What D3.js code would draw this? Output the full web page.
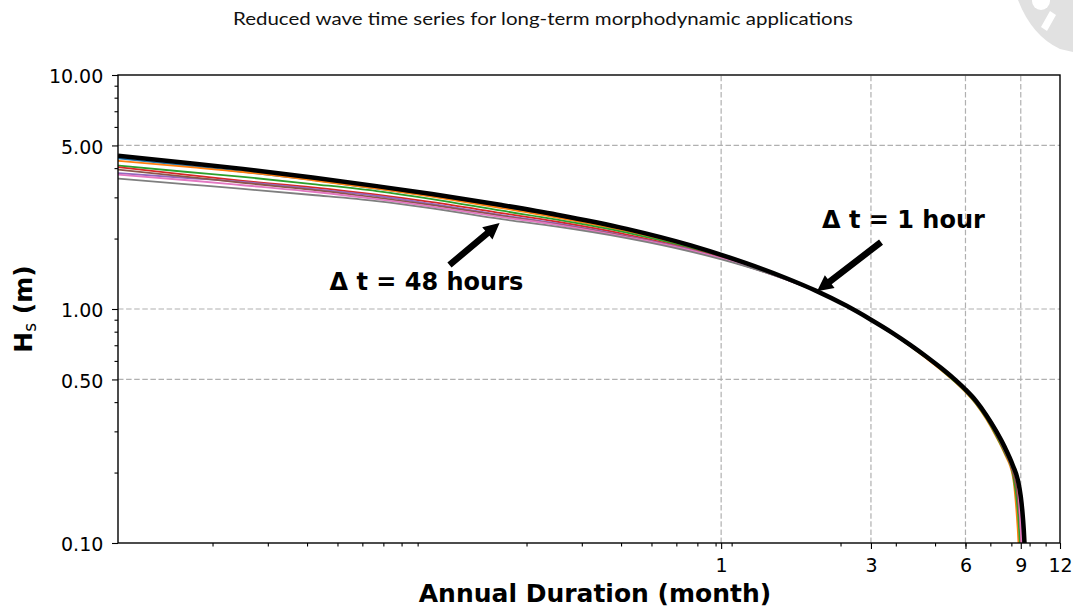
<!DOCTYPE html>
<html>
<head>
<meta charset="utf-8">
<script src="https://cdn.jsdelivr.net/npm/d3@7"></script>
<style>
  body { margin: 0; background: #fff; }
  svg { display: block; font-family: "DejaVu Sans", sans-serif; }
</style>
</head>
<body>
<div id="chart"></div>
<script>
// annual duration (months) at which each Hs value is read
const durations = [0.012, 0.02, 0.03, 0.05, 0.08, 0.12, 0.2, 0.3, 0.5, 0.8, 1.2, 1.6, 2.0, 2.5,
  3.0, 3.5, 4.0, 4.5, 5.0, 5.5, 6.0, 6.5, 7.0, 7.5, 8.0, 8.5, 8.8, 9.0, 9.1, 9.2, 9.3];

// Hs (m) per series, dt = 1 hour is the thick black line
const hs1h = [4.52, 4.21, 3.97, 3.65, 3.35, 3.10, 2.78, 2.53, 2.20, 1.87, 1.57, 1.36, 1.198, 1.034,
  0.900, 0.793, 0.703, 0.627, 0.562, 0.505, 0.453, 0.403, 0.351, 0.302, 0.257, 0.214, 0.187, 0.158, 0.138, 0.114, 0.087];
const hsBlue = [4.40, 4.10, 3.86, 3.56, 3.27, 3.04, 2.73, 2.49, 2.17, 1.85, 1.56, 1.357, 1.198, 1.034,
  0.900, 0.792, 0.702, 0.626, 0.560, 0.503, 0.451, 0.401, 0.349, 0.299, 0.253, 0.210, 0.179, 0.146, 0.121, 0.095, null];
const hsOrange = [4.30, 4.05, 3.85, 3.55, 3.27, 3.02, 2.70, 2.46, 2.15, 1.84, 1.56, 1.356, 1.198, 1.034,
  0.895, 0.785, 0.693, 0.615, 0.550, 0.493, 0.441, 0.390, 0.337, 0.286, 0.240, 0.191, 0.115, 0.066, null, null, null];
const hsGreen = [4.10, 3.85, 3.67, 3.42, 3.19, 2.95, 2.63, 2.41, 2.12, 1.82, 1.55, 1.353, 1.198, 1.034,
  0.896, 0.786, 0.695, 0.618, 0.553, 0.495, 0.443, 0.392, 0.340, 0.289, 0.243, 0.196, 0.139, 0.087, null, null, null];
const hsRed = [4.04, 3.74, 3.53, 3.31, 3.08, 2.86, 2.57, 2.36, 2.08, 1.80, 1.54, 1.35, 1.196, 1.034,
  0.898, 0.789, 0.698, 0.621, 0.556, 0.499, 0.447, 0.396, 0.344, 0.294, 0.247, 0.202, 0.159, 0.114, 0.087, null, null];
const hsPurple = [3.81, 3.63, 3.49, 3.26, 3.04, 2.81, 2.52, 2.32, 2.05, 1.79, 1.53, 1.35, 1.194, 1.034,
  0.899, 0.790, 0.700, 0.623, 0.558, 0.501, 0.449, 0.398, 0.346, 0.295, 0.248, 0.203, 0.168, 0.124, 0.095, null, null];
const hsBrown = [3.94, 3.67, 3.46, 3.23, 2.99, 2.78, 2.50, 2.30, 2.04, 1.78, 1.53, 1.34, 1.194, 1.034,
  0.898, 0.790, 0.699, 0.622, 0.557, 0.500, 0.448, 0.397, 0.345, 0.295, 0.248, 0.202, 0.159, 0.114, 0.087, null, null];
const hsPink = [3.75, 3.55, 3.38, 3.17, 2.95, 2.74, 2.47, 2.29, 2.03, 1.78, 1.53, 1.34, 1.194, 1.034,
  0.902, 0.795, 0.705, 0.629, 0.564, 0.507, 0.455, 0.405, 0.353, 0.303, 0.257, 0.211, 0.177, 0.114, 0.087, null, null];
const hs48h = [3.61, 3.41, 3.26, 3.07, 2.89, 2.69, 2.42, 2.25, 2.01, 1.76, 1.52, 1.34, 1.192, 1.034,
  0.903, 0.797, 0.708, 0.632, 0.566, 0.509, 0.457, 0.407, 0.356, 0.307, 0.260, 0.217, 0.189, 0.158, 0.138, 0.114, 0.087];

// ticks
const xTicks = [1, 3, 6, 9, 12];
const xTickLabels = ["1", "3", "6", "9", "12"];
const yTicks = [0.1, 0.5, 1, 5, 10];
const yTickLabels = ["0.10", "0.50", "1.00", "5.00", "10.00"];
const xGrid = [1, 3, 6, 9];
const yGrid = [0.5, 1, 5];

const W = 1073, H = 610;
const margin = { top: 75, left: 118, right: 13, bottom: 67 };

const svg = d3.select("#chart").append("svg")
  .attr("width", W).attr("height", H);

// faint watermark in the top right corner
const wm = svg.append("g");
wm.append("path")
  .attr("d", "M1018,0 L1073,0 L1073,52 L1060,49 Q1032,36 1018,0 Z")
  .attr("fill", "#e1e1e1");
wm.append("circle").attr("cx", 1041).attr("cy", 1).attr("r", 9).attr("fill", "#fff");
wm.append("path").attr("d", "M1050,11 L1056,15 L1047,31 L1041,27 Z").attr("fill", "#fff");

svg.append("text")
  .attr("x", 543).attr("y", 25)
  .attr("text-anchor", "middle")
  .attr("font-family", "Lato, 'Open Sans', sans-serif")
  .attr("font-size", 18)
  .attr("textLength", 620)
  .attr("lengthAdjust", "spacingAndGlyphs")
  .attr("fill", "#111")
  .text("Reduced wave time series for long-term morphodynamic applications");

const x = d3.scaleLog().domain([0.012, 12]).range([margin.left, W - margin.right]);
const y = d3.scaleLog().domain([0.1, 10]).range([H - margin.bottom, margin.top]);

// minor ticks: 2..9 per decade (in years, shown in months)
const xMinor = [];
[0.001, 0.01, 0.1].forEach(dec => { for (let k = 2; k <= 9; k++) xMinor.push(12 * k * dec); });
const yMinor = [];
[0.1, 1].forEach(dec => { for (let k = 2; k <= 9; k++) if (k !== 5) yMinor.push(k * dec); });

// grid
const grid = svg.append("g").attr("stroke", "#b0b0b0").attr("stroke-width", 1.2).attr("stroke-dasharray", "5.5,2.6");
grid.selectAll("line.gx").data(xGrid).enter().append("line")
  .attr("x1", d => x(d)).attr("x2", d => x(d))
  .attr("y1", y(0.1)).attr("y2", y(10));
grid.selectAll("line.gy").data(yGrid).enter().append("line")
  .attr("y1", d => y(d)).attr("y2", d => y(d))
  .attr("x1", x(0.012)).attr("x2", x(12));

svg.append("clipPath").attr("id", "plot").append("rect")
  .attr("x", margin.left).attr("y", margin.top)
  .attr("width", W - margin.left - margin.right)
  .attr("height", H - margin.top - margin.bottom);

const series = [
  { values: hsBlue, color: "#1f77b4", width: 1.8 },
  { values: hsOrange, color: "#ff7f0e", width: 1.8 },
  { values: hsGreen, color: "#2ca02c", width: 1.8 },
  { values: hsRed, color: "#d62728", width: 1.8 },
  { values: hsPurple, color: "#9467bd", width: 1.8 },
  { values: hsBrown, color: "#8c564b", width: 1.8 },
  { values: hsPink, color: "#e377c2", width: 1.8 },
  { values: hs48h, color: "#7f7f7f", width: 1.8 },
  { values: hs1h, color: "#000000", width: 4.5 }
];

const line = d3.line()
  .defined(d => d[1] != null)
  .x(d => x(d[0]))
  .y(d => y(d[1]))
  .curve(d3.curveMonotoneX);

svg.append("g").attr("clip-path", "url(#plot)")
  .selectAll("path").data(series).enter().append("path")
  .attr("d", s => line(durations.map((m, i) => [m, s.values[i]])))
  .attr("fill", "none")
  .attr("stroke", s => s.color)
  .attr("stroke-width", s => s.width)
  .attr("stroke-linejoin", "round");

// axes
function styleAxis(g) {
  g.attr("font-family", "'DejaVu Sans', sans-serif").attr("font-size", 19);
  g.select(".domain").remove();
  g.selectAll("line").attr("stroke", "#000").attr("stroke-width", 1.1);
  g.selectAll("text").attr("fill", "#000");
}
svg.append("g").attr("transform", `translate(0,${H - margin.bottom})`)
  .call(d3.axisBottom(x).tickValues(xTicks).tickFormat((d, i) => xTickLabels[i]).tickSize(6).tickPadding(10))
  .call(styleAxis);
svg.append("g").attr("transform", `translate(0,${H - margin.bottom})`)
  .call(d3.axisBottom(x).tickValues(xMinor).tickFormat("").tickSize(3.5))
  .call(styleAxis);
const yAxis = svg.append("g").attr("transform", `translate(${margin.left},0)`)
  .call(d3.axisLeft(y).tickValues(yTicks).tickFormat((d, i) => yTickLabels[i]).tickSize(6).tickPadding(8.7))
  .call(styleAxis);
yAxis.selectAll("text").attr("dy", "0.42em");
svg.append("g").attr("transform", `translate(${margin.left},0)`)
  .call(d3.axisLeft(y).tickValues(yMinor).tickFormat("").tickSize(3.5))
  .call(styleAxis);

// frame
svg.append("rect")
  .attr("x", margin.left).attr("y", margin.top)
  .attr("width", W - margin.left - margin.right)
  .attr("height", H - margin.top - margin.bottom)
  .attr("fill", "none").attr("stroke", "#000").attr("stroke-width", 1.4);

// axis titles
svg.append("text")
  .attr("x", (margin.left + W - margin.right) / 2 + 6).attr("y", 602)
  .attr("text-anchor", "middle")
  .attr("font-size", 25).attr("font-weight", "bold")
  .text("Annual Duration (month)");

const yl = svg.append("text")
  .attr("transform", `translate(31.5,${(margin.top + H - margin.bottom) / 2}) rotate(-90)`)
  .attr("text-anchor", "middle")
  .attr("font-size", 25).attr("font-weight", "bold");
yl.append("tspan").text("H");
yl.append("tspan").attr("font-size", 17).attr("font-weight", "normal").attr("dy", 4).text("s");
yl.append("tspan").attr("dy", -4).text(" (m)");

// annotations
const notes = [
  { label: "\u0394 t = 1 hour", tx: 2.096, ty: 2.22, tail: [3.23, 1.93], tip: [2.02, 1.19] },
  { label: "\u0394 t = 48 hours", tx: 0.0566, ty: 1.206, tail: [0.1364, 1.542], tip: [0.197, 2.33] }
];

function arrowPath(x1, y1, x2, y2, sw, hl, hw) {
  const dx = x2 - x1, dy = y2 - y1, L = Math.hypot(dx, dy);
  const ux = dx / L, uy = dy / L, px = -uy, py = ux;
  const bx = x2 - ux * hl, by = y2 - uy * hl;
  const pts = [
    [x1 + px * sw / 2, y1 + py * sw / 2],
    [bx + px * sw / 2, by + py * sw / 2],
    [bx + px * hw / 2, by + py * hw / 2],
    [x2, y2],
    [bx - px * hw / 2, by - py * hw / 2],
    [bx - px * sw / 2, by - py * sw / 2],
    [x1 - px * sw / 2, y1 - py * sw / 2]
  ];
  return "M" + pts.map(p => p.join(",")).join("L") + "Z";
}

notes.forEach(n => {
  svg.append("path")
    .attr("d", arrowPath(x(n.tail[0]), y(n.tail[1]), x(n.tip[0]), y(n.tip[1]), 6.5, 16, 16))
    .attr("fill", "#000");
  svg.append("text")
    .attr("x", x(n.tx)).attr("y", y(n.ty))
    .attr("font-size", 24).attr("font-weight", "bold")
    .text(n.label);
});
</script>
</body>
</html>
